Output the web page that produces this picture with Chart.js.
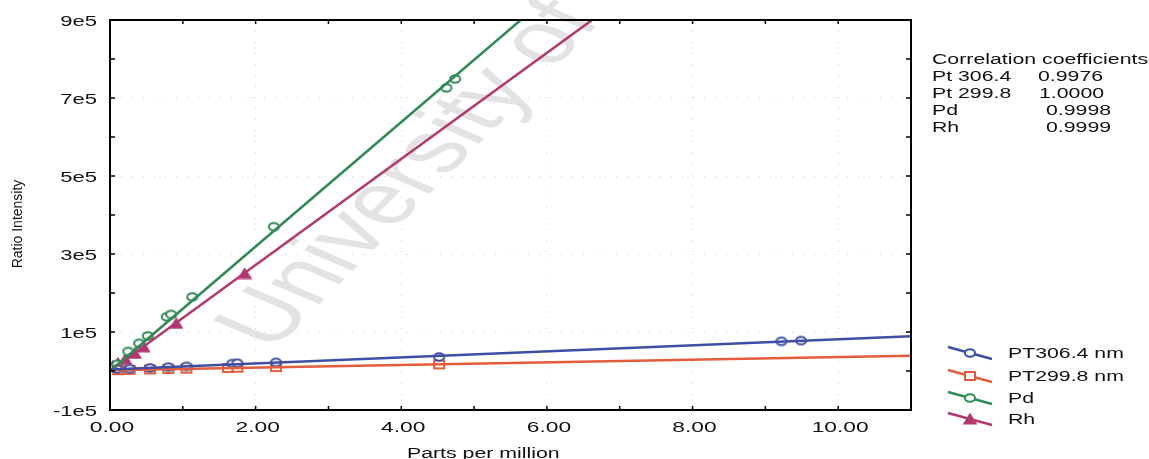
<!DOCTYPE html>
<html>
<head>
<meta charset="utf-8">
<script src="https://cdn.jsdelivr.net/npm/chart.js@4"></script>
<style>
  html, body { margin: 0; padding: 0; background: #fff; }
  canvas { display: block; }
</style>
</head>
<body>
<canvas id="myChart" width="1149" height="459"></canvas>
<script>
// tick values and labels
const xTicks = [0, 2, 4, 6, 8, 10];
const xTickLabels = ['0.00', '2.00', '4.00', '6.00', '8.00', '10.00'];
const xMinor = [1, 3, 5, 7, 9, 11];
const yTicks = [-100000, 100000, 300000, 500000, 700000, 900000];
const yTickLabels = ['-1e5', '1e5', '3e5', '5e5', '7e5', '9e5'];
const yMinor = [0, 200000, 400000, 600000, 800000];

// calibration points
const pt306X = [0.1, 0.27, 0.55, 0.8, 1.05, 1.68, 1.75, 2.28, 4.52, 9.22, 9.49];
const pt306Y = [5000, 6000, 8000, 10000, 12000, 19000, 20000, 22000, 36000, 76000, 78000];
const pt299X = [0.11, 0.27, 0.55, 0.8, 1.05, 1.62, 1.75, 2.28, 4.52];
const pt299Y = [2000, 3000, 4000, 5000, 6000, 8000, 8500, 10000, 17000];
const pdX = [0.05, 0.1, 0.25, 0.4, 0.52, 0.78, 0.84, 1.13, 2.25, 4.62, 4.74];
const pdY = [9000, 17000, 50000, 71000, 90000, 139000, 145000, 190000, 370000, 726000, 749000];
const rhX = [0.04, 0.11, 0.21, 0.34, 0.46, 0.91, 1.85];
const rhY = [13000, 20000, 30000, 45000, 62000, 122000, 250000];

// fitted lines (end points)
const pt306FitX = [0, 11];
const pt306FitY = [4000, 89000];
const pt299FitX = [0, 11];
const pt299FitY = [2000, 39000];
const pdFitX = [0, 5.64];
const pdFitY = [0, 900000];
const rhFitX = [0, 6.62];
const rhFitY = [0, 900000];

const seriesNames = ['PT306.4 nm', 'PT299.8 nm', 'Pd', 'Rh'];
const corrTitle = 'Correlation coefficients';
const corrNames = ['Pt 306.4', 'Pt 299.8', 'Pd', 'Rh'];
const corrValues = ['0.9976', '1.0000', '0.9998', '0.9999'];

const colBlue = '#3e4fa3';
const colRed = '#e35c3c';
const colGreen = '#2f8a55';
const colPink = '#b3376f';

const SX = 1.52; // the scan is stretched sideways
const FONT = '"Liberation Sans", Arial, sans-serif';

function pts(xs, ys) {
    return xs.map((x, i) => ({ x: x, y: ys[i] }));
}

function makeMarker(shape, color) {
    const c = document.createElement('canvas');
    c.width = 14; c.height = 12;
    const g = c.getContext('2d');
    g.strokeStyle = color;
    g.fillStyle = '#fff';
    g.lineWidth = 2;
    g.beginPath();
    if (shape === 'circle') {
        g.ellipse(7, 6, 5, 3.8, 0, 0, Math.PI * 2);
    } else if (shape === 'square') {
        g.rect(2, 2, 10, 8);
    } else {
        g.moveTo(7, 1.5); g.lineTo(12.5, 10.5); g.lineTo(1.5, 10.5); g.closePath();
        g.fillStyle = color;
    }
    g.fill();
    g.stroke();
    return c;
}

const markers = [
    makeMarker('circle', colBlue),
    makeMarker('square', colRed),
    makeMarker('circle', colGreen),
    makeMarker('triangle', colPink)
];
const colors = [colBlue, colRed, colGreen, colPink];

function fitSet(xs, ys, color) {
    return {
        data: pts(xs, ys),
        showLine: true,
        borderColor: color,
        borderWidth: 2.5,
        pointRadius: 0,
        fill: false
    };
}

function pointSet(name, xs, ys, i) {
    return {
        label: name,
        data: pts(xs, ys),
        showLine: false,
        pointStyle: markers[i],
        pointRadius: 5,
        borderColor: colors[i],
        backgroundColor: colors[i]
    };
}

function txt(ctx, s, x, y, align, size) {
    ctx.save();
    ctx.font = size + 'px ' + FONT;
    ctx.fillStyle = '#111';
    ctx.textAlign = 'left';
    ctx.textBaseline = 'alphabetic';
    ctx.translate(x, y);
    ctx.scale(SX, 1);
    const w = ctx.measureText(s).width;
    let dx = 0;
    if (align === 'right') dx = -w;
    if (align === 'center') dx = -w / 2;
    ctx.fillText(s, dx, 0);
    ctx.restore();
}

const watermark = {
    id: 'watermark',
    beforeDatasetsDraw(chart) {
        const ctx = chart.ctx;
        ctx.save();
        ctx.beginPath();
        ctx.rect(0, 0, chart.width, chart.height);
        ctx.clip();
        ctx.translate(272, 352);
        ctx.scale(SX, 1);
        ctx.rotate(-56.8 * Math.PI / 180);
        ctx.font = '72px ' + FONT;
        ctx.fillStyle = '#e3e3e3';
        ctx.fillText('University of', 0, 0);
        ctx.restore();
    }
};

const frame = {
    id: 'frame',
    afterDraw(chart) {
        const ctx = chart.ctx;
        const a = chart.chartArea;
        const xs = chart.scales.x;
        const ys = chart.scales.y;
        ctx.save();
        ctx.strokeStyle = '#000';
        ctx.lineWidth = 2;
        ctx.strokeRect(a.left, a.top, a.right - a.left, a.bottom - a.top);
        ctx.lineWidth = 1.5;
        ctx.beginPath();
        xTicks.concat(xMinor).forEach(v => {
            const px = xs.getPixelForValue(v);
            ctx.moveTo(px, a.bottom); ctx.lineTo(px, a.bottom - 4);
            ctx.moveTo(px, a.top); ctx.lineTo(px, a.top + 4);
        });
        yTicks.concat(yMinor).forEach(v => {
            const py = ys.getPixelForValue(v);
            ctx.moveTo(a.left, py); ctx.lineTo(a.left + 5, py);
            ctx.moveTo(a.right, py); ctx.lineTo(a.right - 5, py);
        });
        ctx.stroke();
        ctx.restore();

        // tick labels
        xTicks.forEach((v, i) => {
            txt(ctx, xTickLabels[i], xs.getPixelForValue(v) + 2, 431.5, 'center', 15);
        });
        yTicks.forEach((v, i) => {
            txt(ctx, yTickLabels[i], 97, ys.getPixelForValue(v) + 5.5, 'right', 14.5);
        });

        // axis titles
        txt(ctx, 'Parts per million', 407, 458, 'left', 14);
        ctx.save();
        ctx.translate(22, 224);
        ctx.rotate(-Math.PI / 2);
        ctx.font = '14px ' + FONT;
        ctx.fillStyle = '#111';
        ctx.textAlign = 'center';
        ctx.fillText('Ratio Intensity', 0, 0);
        ctx.restore();

        // correlation block
        txt(ctx, corrTitle, 932, 64, 'left', 14);
        const valX = [1038, 1039, 1046, 1046];
        corrNames.forEach((n, i) => {
            txt(ctx, n, 932, 81 + i * 17, 'left', 14);
            txt(ctx, corrValues[i], valX[i], 81 + i * 17, 'left', 14);
        });

        // legend
        const rowY = [353, 376, 398, 419];
        seriesNames.forEach((n, i) => {
            const cy = rowY[i];
            ctx.save();
            ctx.strokeStyle = colors[i];
            ctx.lineWidth = 2.5;
            ctx.beginPath();
            ctx.moveTo(948, cy - 6);
            ctx.lineTo(992, cy + 6);
            ctx.stroke();
            const m = markers[i];
            ctx.drawImage(m, 970 - m.width / 2, cy - m.height / 2);
            ctx.restore();
            txt(ctx, n, 1008, cy + 5, 'left', 14);
        });
    }
};

var ctx = document.getElementById('myChart');
var myChart = new Chart(ctx, {
    type: 'scatter',
    data: {
        datasets: [
            fitSet(pt306FitX, pt306FitY, colBlue),
            fitSet(pt299FitX, pt299FitY, colRed),
            fitSet(pdFitX, pdFitY, colGreen),
            fitSet(rhFitX, rhFitY, colPink),
            pointSet(seriesNames[0], pt306X, pt306Y, 0),
            pointSet(seriesNames[1], pt299X, pt299Y, 1),
            pointSet(seriesNames[2], pdX, pdY, 2),
            pointSet(seriesNames[3], rhX, rhY, 3)
        ]
    },
    options: {
        responsive: false,
        animation: false,
        layout: {
            autoPadding: false,
            padding: { left: 0, top: 20, right: 238, bottom: 0 }
        },
        plugins: {
            legend: { display: false },
            tooltip: { enabled: false }
        },
        scales: {
            x: {
                type: 'linear',
                min: 0,
                max: 11,
                afterBuildTicks: s => { s.ticks = xTicks.map(v => ({ value: v })); },
                afterFit: s => { s.height = 49; },
                ticks: { display: false },
                grid: { drawTicks: false, color: 'rgba(120,120,120,0.35)', lineWidth: 1 },
                border: { display: false, dash: [1, 10] }
            },
            y: {
                type: 'linear',
                min: -100000,
                max: 900000,
                afterBuildTicks: s => { s.ticks = yTicks.map(v => ({ value: v })); },
                afterFit: s => { s.width = 110; },
                ticks: { display: false },
                grid: { drawTicks: false, color: 'rgba(120,120,120,0.35)', lineWidth: 1 },
                border: { display: false, dash: [1, 10] }
            }
        }
    },
    plugins: [watermark, frame]
});
</script>
</body>
</html>
